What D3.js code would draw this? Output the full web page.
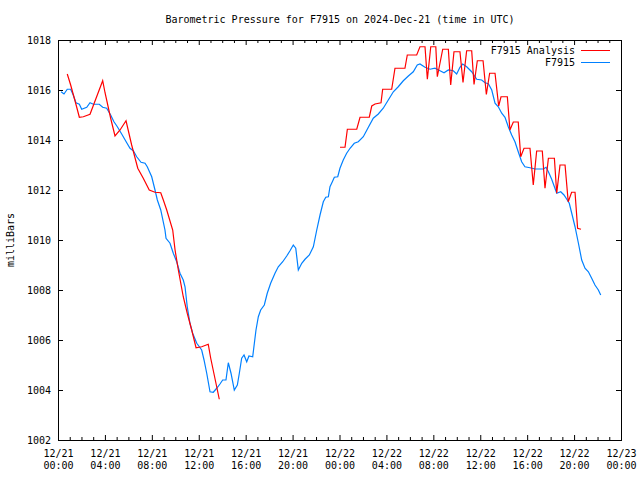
<!DOCTYPE html>
<html><head><meta charset="utf-8">
<script src="https://cdn.jsdelivr.net/npm/d3@7"></script>
<style>
html,body{margin:0;padding:0;background:#fff;}
svg text{font-family:"DejaVu Sans Mono","Liberation Mono",monospace;font-size:10px;fill:#000;}
</style></head>
<body>
<svg id="chart" width="640" height="480"></svg>
<script>
// Hours since 2024-12-21 00:00 UTC
const stationHours = [0.26,0.51,0.79,1.08,1.30,1.53,1.82,2.02,2.45,2.73,3.01,3.52,3.81,4.15,4.49,4.77,5.06,5.43,5.86,6.14,6.42,6.71,7.08,7.42,7.61,7.99,8.27,8.47,8.76,9.12,9.21,9.55,9.83,10.12,10.40,10.68,10.83,11.02,11.25,11.48,11.83,12.25,12.45,12.68,12.96,13.24,13.53,13.81,14.04,14.32,14.52,14.75,15.03,15.29,15.46,15.66,15.86,16.09,16.28,16.60,16.74,16.88,17.08,17.28,17.59,17.84,18.13,18.50,18.78,19.16,19.50,19.78,20.06,20.27,20.49,20.78,21.06,21.43,21.77,22.06,22.34,22.62,22.83,23.05,23.19,23.39,23.56,23.85,24.04,24.32,24.61,24.90,25.26,25.60,26.03,26.46,26.88,27.31,27.73,28.16,28.59,29.01,29.44,29.87,30.29,30.63,30.86,31.29,31.72,32.14,32.57,32.91,33.28,33.70,33.99,34.27,34.50,34.84,35.27,35.70,36.12,36.41,36.69,36.98,37.26,37.54,37.83,38.11,38.39,38.68,38.96,39.24,39.53,39.81,40.24,40.67,41.38,41.61,41.81,42.09,42.52,42.86,43.14,43.42,43.59,43.80,44.08,44.37,44.65,44.93,45.22,45.50,45.78,46.07,46.27];
const stationPressure = [1015.93,1015.84,1016.03,1016.03,1015.80,1015.49,1015.43,1015.23,1015.31,1015.49,1015.43,1015.43,1015.31,1015.27,1015.00,1014.73,1014.53,1014.24,1013.89,1013.67,1013.57,1013.33,1013.11,1013.07,1012.93,1012.53,1012.00,1011.60,1011.20,1010.40,1010.07,1009.87,1009.47,1009.13,1008.67,1008.40,1008.13,1007.33,1006.67,1006.27,1005.87,1005.60,1005.20,1004.67,1003.93,1003.91,1004.07,1004.24,1004.40,1004.40,1005.09,1004.67,1004.00,1004.20,1004.67,1005.27,1005.40,1005.13,1005.36,1005.33,1005.87,1006.40,1006.93,1007.20,1007.40,1007.87,1008.27,1008.67,1008.93,1009.13,1009.36,1009.57,1009.80,1009.67,1008.80,1009.07,1009.23,1009.40,1009.73,1010.40,1011.00,1011.53,1011.71,1011.73,1012.13,1012.33,1012.51,1012.53,1012.87,1013.20,1013.47,1013.67,1013.87,1013.93,1014.13,1014.51,1014.87,1015.04,1015.27,1015.60,1015.93,1016.13,1016.37,1016.56,1016.73,1017.00,1017.04,1016.91,1016.83,1016.87,1016.77,1016.69,1016.80,1016.77,1016.64,1016.91,1017.04,1016.93,1016.73,1016.43,1016.40,1016.29,1016.25,1016.00,1015.47,1015.33,1015.07,1014.91,1014.53,1014.20,1013.93,1013.53,1013.13,1012.93,1012.89,1012.84,1012.84,1012.91,1012.73,1012.43,1011.87,1011.93,1011.80,1011.60,1011.47,1011.07,1010.53,1009.87,1009.20,1008.87,1008.73,1008.47,1008.20,1008.00,1007.80];

const analysisHours1 = [0.79,1.08,1.45,1.82,2.16,2.73,3.81,4.01,4.49,4.86,5.29,5.80,6.28,6.80,7.27,7.78,8.27,8.76,8.98,9.27,9.78,9.98,10.26,10.68,11.02,11.40,11.77,12.25,12.81,13.02,13.53,13.75];
const analysisPressure1 = [1016.64,1016.20,1015.57,1014.91,1014.93,1015.03,1016.37,1015.89,1014.87,1014.16,1014.40,1014.77,1013.80,1012.87,1012.47,1012.00,1011.91,1011.89,1011.60,1011.20,1010.40,1009.60,1008.80,1007.73,1007.07,1006.40,1005.69,1005.73,1005.83,1005.27,1004.13,1003.63];
const analysisHours2 = [24.04,24.47,24.67,25.47,25.75,26.54,26.75,27.03,27.54,27.68,28.45,28.73,29.58,29.78,30.58,30.86,31.29,31.49,31.78,32.21,32.34,32.80,33.28,33.48,33.76,34.27,34.53,34.84,35.27,35.47,35.75,36.24,36.52,36.80,37.26,37.57,37.77,38.31,38.53,38.82,39.24,39.45,39.73,40.24,40.52,40.81,41.29,41.52,41.81,42.32,42.52,42.80,43.23,43.50,43.79,44.08,44.30,44.59];
const analysisPressure2 = [1013.71,1013.71,1014.43,1014.43,1014.91,1014.91,1015.36,1015.44,1015.49,1016.03,1016.03,1016.87,1016.87,1017.40,1017.40,1017.73,1017.73,1016.43,1017.73,1017.73,1016.53,1017.63,1017.63,1016.20,1017.53,1017.53,1016.30,1017.57,1017.57,1016.22,1017.17,1017.17,1015.82,1016.67,1016.67,1015.36,1015.73,1015.73,1014.40,1014.72,1014.72,1013.33,1013.67,1013.67,1012.20,1013.56,1013.56,1012.07,1013.27,1013.27,1011.87,1013.00,1013.00,1011.53,1011.91,1011.91,1010.47,1010.43];

const yTicks = [1002,1004,1006,1008,1010,1012,1014,1016,1018];
const xTickHours = [0,4,8,12,16,20,24,28,32,36,40,44,48];
const titleText = "Barometric Pressure for F7915 on 2024-Dec-21 (time in UTC)";
const yLabel = "milliBars";
const seriesNames = ["F7915 Analysis","F7915"];
const seriesColors = ["#ff0000","#0080ff"];

const t0 = Date.UTC(2024,11,21,0,0);
const toDate = h => new Date(t0 + h*3600000);

const svg = d3.select("#chart");
const L=58, R=621, T=40, B=440;
const x = d3.scaleUtc().domain([toDate(0), toDate(48)]).range([L,R]);
const y = d3.scaleLinear().domain([1002,1018]).range([B,T]);

const g = svg.append("g");
// frame
g.append("rect").attr("x",L+0.5).attr("y",T+0.5).attr("width",R-L).attr("height",B-T)
 .attr("fill","none").attr("stroke","#000").attr("stroke-width",1);

const hourly = d3.range(0,49).map(toDate);
const minorHours = hourly.filter((d,i)=>i%4!==0);
const majorDates = xTickHours.map(toDate);

function xAxis(axisFn, yPos, sizeMajor, sizeMinor) {
  g.append("g").attr("transform",`translate(0,${yPos})`)
   .call(axisFn(x).tickValues(minorHours).tickSize(sizeMinor).tickFormat(""))
   .call(s=>s.select(".domain").remove());
  g.append("g").attr("transform",`translate(0,${yPos})`)
   .call(axisFn(x).tickValues(majorDates).tickSize(sizeMajor).tickFormat(""))
   .call(s=>s.select(".domain").remove());
}
xAxis(d3.axisTop, B, 5, 3);
xAxis(d3.axisBottom, T, 5, 3);

// y ticks left & right
g.append("g").attr("transform",`translate(${L},0)`)
 .call(d3.axisRight(y).tickValues(yTicks).tickSize(5).tickFormat(""))
 .call(s=>s.select(".domain").remove());
g.append("g").attr("transform",`translate(${R},0)`)
 .call(d3.axisLeft(y).tickValues(yTicks).tickSize(5).tickFormat(""))
 .call(s=>s.select(".domain").remove());
g.selectAll(".tick line").attr("stroke","#000");

// y labels
g.selectAll(".ylab").data(yTicks).enter().append("text")
 .attr("x",51).attr("y",d=>y(d)+3.5).attr("text-anchor","end").text(d=>d);

// x labels
const fmtD = d3.utcFormat("%m/%d"), fmtT = d3.utcFormat("%H:%M");
const xl = g.selectAll(".xlab").data(majorDates).enter().append("text")
 .attr("text-anchor","middle");
xl.append("tspan").attr("x",d=>x(d)+0.5).attr("y",457).text(d=>fmtD(d));
xl.append("tspan").attr("x",d=>x(d)+0.5).attr("y",469).text(d=>fmtT(d));

// title
svg.append("text").attr("x",340).attr("y",23).attr("text-anchor","middle").text(titleText);
// y axis label
svg.append("text").attr("transform","translate(14,240) rotate(-90)").attr("text-anchor","middle").text(yLabel);

// lines
const line = d3.line().x(d=>x(toDate(d[0]))).y(d=>y(d[1]));
const zip = (a,b)=>a.map((v,i)=>[v,b[i]]);
const plot = svg.append("g");
plot.append("path").datum(zip(stationHours,stationPressure)).attr("d",line)
 .attr("fill","none").attr("stroke",seriesColors[1]).attr("stroke-width",1.2);
[zip(analysisHours1,analysisPressure1), zip(analysisHours2,analysisPressure2)].forEach(seg=>{
  plot.append("path").datum(seg).attr("d",line)
   .attr("fill","none").attr("stroke",seriesColors[0]).attr("stroke-width",1.2);
});

// legend
const leg = svg.append("g");
seriesNames.forEach((n,i)=>{
  const yy = 50 + i*12;
  leg.append("text").attr("x",575).attr("y",yy+3.5).attr("text-anchor","end").text(n);
  leg.append("line").attr("x1",581).attr("x2",610).attr("y1",yy+0.5).attr("y2",yy+0.5)
   .attr("stroke",seriesColors[i]).attr("stroke-width",1);
});
</script>
</body></html>
